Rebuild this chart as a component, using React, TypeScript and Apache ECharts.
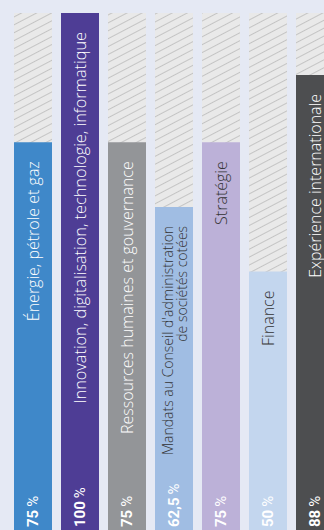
import React, { useEffect, useRef } from "react";
import * as echarts from "echarts";

const categories = [
  "Énergie, pétrole et gaz",
  "Innovation, digitalisation, technologie, informatique",
  "Ressources humaines et gouvernance",
  "Mandats au Conseil d'administration\nde sociétés cotées",
  "Stratégie",
  "Finance",
  "Expérience internationale",
];
const values = [75, 100, 75, 62.5, 75, 50, 88];
const barColors = ["#3f88c9", "#4e3d95", "#939598", "#a0bde3", "#bcb1d8", "#c3d6ee", "#4d4e50"];
const labelColors = ["#ffffff", "#ffffff", "#ffffff", "#333333", "#333333", "#333333", "#ffffff"];
const labelSizes = [16, 16.3, 16, 14, 16, 16, 16];
const fullValue = 100;

export default function App() {
  const ref = useRef<HTMLDivElement>(null);
  useEffect(() => {
    if (!ref.current) return;
    const chart = echarts.init(ref.current, null, { renderer: "svg" });
    const fontFamily = "'Open Sans', 'Noto Sans', sans-serif";
    chart.setOption({
      animation: false,
      backgroundColor: "#e5e9f4",
      grid: {
        left: 9.5,
        top: 13,
        bottom: 0,
        width: 329,
        containLabel: false,
        outerBoundsMode: "none",
      },
      xAxis: {
        type: "category",
        data: categories,
        show: false,
      },
      yAxis: { type: "value", min: 0, max: 100, show: false },
      series: [
        {
          type: "bar",
          barWidth: 38,
          silent: true,
          data: categories.map(() => fullValue),
          itemStyle: {
            color: "#e9e9e9",
            decal: {
              symbol: "rect",
              symbolSize: 1,
              dashArrayX: [1, 0],
              dashArrayY: [1, 6],
              rotation: -Math.PI / 6.5,
              color: "#c4c4c4",
            },
          },
        },
        {
          type: "bar",
          barWidth: 38,
          barGap: "-100%",
          data: values.map((v, i) => ({
            value: v,
            itemStyle: { color: barColors[i] },
            label: { color: labelColors[i], fontSize: labelSizes[i] },
          })),
          label: {
            show: true,
            position: "insideTop",
            distance: 19,
            rotate: 90,
            align: "right",
            verticalAlign: "middle",
            fontFamily,
            fontSize: 16,
            fontWeight: 300,
            lineHeight: 14,
            formatter: (p: any) => categories[p.dataIndex],
          },
        },
        {
          type: "bar",
          barWidth: 38,
          barGap: "-100%",
          itemStyle: { color: "rgba(0,0,0,0)" },
          data: values,
          label: {
            show: true,
            position: "insideBottom",
            distance: 3,
            rotate: 90,
            align: "left",
            verticalAlign: "middle",
            color: "#ffffff",
            fontFamily: "Roboto, sans-serif",
            formatter: (p: any) => "{b|" + String(p.value).replace(".", ",") + "} {p|%}",
            rich: {
              b: { fontSize: 15, fontWeight: "bold", color: "#ffffff", fontFamily: "Roboto, sans-serif" },
              p: { fontSize: 15, fontWeight: "normal", color: "#ffffff", fontFamily: "Roboto, sans-serif" },
            },
          },
        },
      ],
    });
    return () => chart.dispose();
  }, []);
  return (
    <div
      ref={ref}
      style={{ position: "fixed", left: 0, top: 0, width: 324, height: 530 }}
    />
  );
}
